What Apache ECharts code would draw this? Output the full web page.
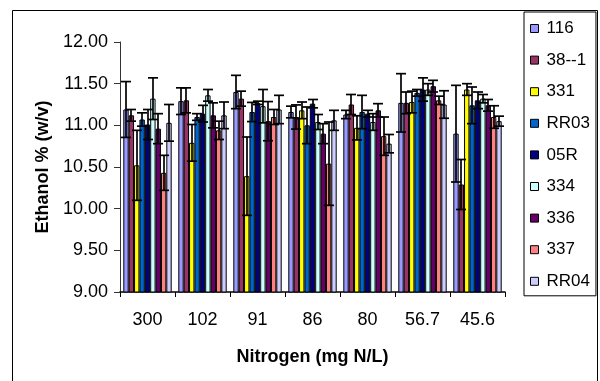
<!DOCTYPE html>
<html>
<head>
<meta charset="utf-8">
<script src="https://cdn.jsdelivr.net/npm/echarts@6/dist/echarts.min.js"></script>
<style>
  html, body { margin: 0; padding: 0; background: #fff; }
  #chart { width: 600px; height: 381px; }
</style>
</head>
<body>
<div id="chart"></div>
<script>
// Nitrogen levels (mg N/L) on the category axis
const categories = ['300', '102', '91', '86', '80', '56.7', '45.6'];

// Yeast strains
const strainNames = ['116', '38--1', '331', 'RR03', '05R', '334', '336', '337', 'RR04'];

// Mean ethanol % (w/v) per strain, one value per nitrogen level
const ethanol116  = [11.19, 11.29, 11.40, 11.16, 11.13, 11.27, 10.90];
const ethanol38_1 = [11.12, 11.30, 11.32, 11.10, 11.25, 11.27, 10.29];
const ethanol331  = [10.52, 10.79, 10.39, 11.18, 10.97, 11.28, 11.43];
const ethanolRR03 = [11.07, 11.10, 11.16, 11.00, 11.16, 11.39, 11.24];
const ethanol05R  = [11.01, 11.14, 11.27, 11.26, 11.14, 11.43, 11.30];
const ethanol334  = [11.32, 11.36, 11.23, 11.04, 11.04, 11.43, 11.32];
const ethanol336  = [10.96, 11.12, 11.05, 10.90, 11.18, 11.47, 11.24];
const ethanol337  = [10.43, 10.94, 11.10, 10.54, 10.87, 11.30, 11.10];
const ethanolRR04 = [11.03, 11.12, 11.19, 11.06, 10.78, 11.25, 11.05];

// Standard deviations (error bar half-lengths)
const sd116  = [0.335, 0.16, 0.20, 0.07, 0.05, 0.35, 0.58];
const sd38_1 = [0.07, 0.15, 0.09, 0.145, 0.12, 0.13, 0.30];
const sd331  = [0.42, 0.22, 0.47, 0.10, 0.145, 0.13, 0.07];
const sdRR03 = [0.08, 0.04, 0.115, 0.22, 0.20, 0.04, 0.22];
const sd05R  = [0.18, 0.10, 0.02, 0.05, 0.04, 0.14, 0.10];
const sd334  = [0.25, 0.07, 0.20, 0.09, 0.10, 0.07, 0.05];
const sd336  = [0.18, 0.15, 0.235, 0.12, 0.08, 0.07, 0.07];
const sd337  = [0.21, 0.11, 0.09, 0.50, 0.23, 0.05, 0.135];
const sdRR04 = [0.22, 0.16, 0.17, 0.12, 0.11, 0.165, 0.06];

// Y axis tick values
const yTicks = [9.0, 9.5, 10.0, 10.5, 11.0, 11.5, 12.0];

const means = [ethanol116, ethanol38_1, ethanol331, ethanolRR03, ethanol05R,
               ethanol334, ethanol336, ethanol337, ethanolRR04];
const sds = [sd116, sd38_1, sd331, sdRR03, sd05R, sd334, sd336, sd337, sdRR04];

const palette = ['#9999FF', '#993366', '#FFFF00', '#0066CC', '#000080',
                 '#CCFFFF', '#660066', '#FF8080', '#CCCCFF'];

const FONT = '"Liberation Sans", Arial, sans-serif';
const CATEGORY_GAP = 0.12;
const nStrains = strainNames.length;

const barSeries = strainNames.map((name, i) => ({
  name: name,
  type: 'bar',
  data: means[i],
  barGap: '0%',
  barCategoryGap: (CATEGORY_GAP * 100) + '%',
  itemStyle: { color: palette[i], borderColor: '#000', borderWidth: 1 },
  emphasis: { disabled: true },
  z: 2
}));

// Error bars drawn on top of each bar, offset to that strain's slot in the group
const errorSeries = strainNames.map((name, i) => ({
  name: name + ' sd',
  type: 'custom',
  data: means[i].map((v, c) => [c, v, sds[i][c]]),
  z: 5,
  silent: true,
  renderItem: function (params, api) {
    const c = api.value(0), v = api.value(1), e = api.value(2);
    const band = api.size([1, 0])[0];
    const barW = band * (1 - CATEGORY_GAP) / nStrains;
    const dx = (i - (nStrains - 1) / 2) * barW;
    const hi = api.coord([c, v + e]);
    const lo = api.coord([c, v - e]);
    const x = Math.round(hi[0] + dx);
    const cap = 5;
    const style = { stroke: '#000', lineWidth: 1.7 };
    return {
      type: 'group',
      children: [
        { type: 'line', shape: { x1: x, y1: hi[1], x2: x, y2: lo[1] }, style: style },
        { type: 'line', shape: { x1: x - cap, y1: hi[1], x2: x + cap, y2: hi[1] }, style: style },
        { type: 'line', shape: { x1: x - cap, y1: lo[1], x2: x + cap, y2: lo[1] }, style: style }
      ]
    };
  }
}));

const chart = echarts.init(document.getElementById('chart'), null, { renderer: 'canvas' });

chart.setOption({
  animation: false,
  backgroundColor: '#fff',
  textStyle: { fontFamily: FONT, color: '#000' },
  graphic: [{
    // chart-area frame; its lower edge runs past the bottom of the page
    type: 'rect',
    shape: { x: 12.5, y: 10.5, width: 585, height: 390 },
    style: { fill: 'none', stroke: '#000', lineWidth: 1 },
    z: -1
  }],
  grid: { left: 120, right: 95, top: 42, bottom: 89 },
  legend: {
    orient: 'vertical',
    left: 524,
    top: 12,
    data: strainNames,
    icon: 'rect',
    itemWidth: 8,
    itemHeight: 8,
    itemGap: 14.6,
    padding: [8, 6, 6, 6],
    borderColor: '#000',
    borderWidth: 1,
    backgroundColor: '#fff',
    itemStyle: { borderColor: '#000', borderWidth: 1 },
    textStyle: { fontFamily: FONT, fontSize: 17, color: '#000', lineHeight: 17, padding: [0, 0, 0, 3] },
    selectedMode: false
  },
  xAxis: {
    type: 'category',
    data: categories,
    name: 'Nitrogen (mg N/L)',
    nameLocation: 'middle',
    nameGap: 56,
    nameTextStyle: { fontFamily: FONT, fontSize: 18, fontWeight: 'bold', color: '#000' },
    axisLine: { lineStyle: { color: '#000', width: 1.5 } },
    axisTick: { show: true, alignWithLabel: false, length: 5, lineStyle: { color: '#000' } },
    axisLabel: { fontFamily: FONT, fontSize: 18, color: '#000', margin: 19 },
    splitLine: { show: false }
  },
  yAxis: {
    type: 'value',
    min: yTicks[0],
    max: yTicks[yTicks.length - 1],
    interval: 0.5,
    name: 'Ethanol % (w/v)',
    nameLocation: 'middle',
    nameRotate: 90,
    nameGap: 64,
    nameTextStyle: { fontFamily: FONT, fontSize: 18, fontWeight: 'bold', color: '#000' },
    axisLine: { show: true, lineStyle: { color: '#333', width: 1 } },
    axisTick: { show: true, length: 6, lineStyle: { color: '#333' } },
    axisLabel: {
      fontFamily: FONT, fontSize: 18, color: '#000', margin: 12,
      formatter: v => v.toFixed(2)
    },
    splitLine: { show: false }
  },
  series: barSeries.concat(errorSeries)
});
</script>
</body>
</html>
